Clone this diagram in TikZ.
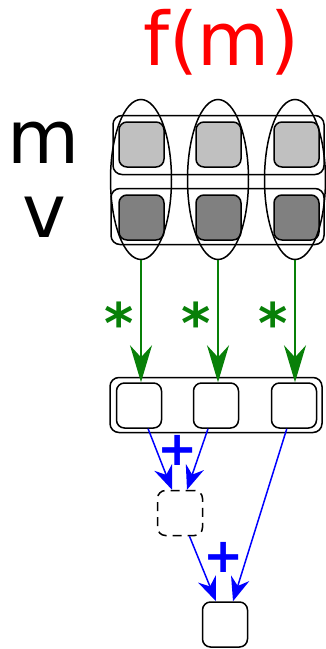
\documentclass[tikz,border=0pt]{standalone}
\usepackage{fontspec}
\setmainfont{DejaVu Sans}
\usetikzlibrary{shapes.geometric,arrows.meta}
\definecolor{MulGreen}{HTML}{088008}
\definecolor{SumBlue}{HTML}{0000FF}
\definecolor{FnRed}{HTML}{FF0000}
\definecolor{LightCell}{HTML}{C0C0C0}
\definecolor{DarkCell}{HTML}{808080}

\begin{document}
\begin{tikzpicture}[x=1pt,y=1pt,line width=1.5pt,
  cell/.style={draw,rounded corners=8pt,minimum width=45pt,minimum height=45pt,inner sep=0pt},
  rowbox/.style={draw,rounded corners=9pt,inner sep=0pt},
  colring/.style={draw,ellipse,minimum width=61pt,minimum height=160pt,inner sep=0pt},
  mul/.style={MulGreen,-{Stealth[length=37pt,width=22pt,inset=12pt]}},
  add/.style={SumBlue,-{Stealth[length=24pt,width=19pt,inset=8pt]}},
  bigtext/.style={inner sep=0pt,font=\fontsize{74}{80}\selectfont},
  mulsign/.style={MulGreen,anchor=north,inner sep=0pt,font=\bfseries\fontsize{56}{60}\selectfont},
  addsign/.style={SumBlue,anchor=north,inner sep=0pt,font=\bfseries\fontsize{48}{52}\selectfont}]
\useasboundingbox (0,0) rectangle (325,-649);
% labels
\node[bigtext,text=FnRed] (fm) at (221,-42.5) {f(m)};
\node[bigtext] (mlab) at (44,-142.5) {m};
\node[bigtext] (vlab) at (44,-217) {v};
% rows of m and v
\node[rowbox,minimum width=211pt,minimum height=59pt] (mrow) at (218.5,-145) {};
\node[rowbox,minimum width=213pt,minimum height=56pt] (vrow) at (217.5,-216.5) {};
\node[cell,fill=LightCell] (m1) at (141.5,-144.5) {};
\node[cell,fill=LightCell] (m2) at (218.5,-144.5) {};
\node[cell,fill=LightCell] (m3) at (296.5,-144.5) {};
\node[cell,fill=DarkCell] (v1) at (141.5,-217.5) {};
\node[cell,fill=DarkCell] (v2) at (218.5,-217.5) {};
\node[cell,fill=DarkCell] (v3) at (296.5,-217.5) {};
% columns
\node[colring] (c1) at (141,-179.5) {};
\node[colring] (c2) at (218,-179.5) {};
\node[colring] (c3) at (295,-179.5) {};
% products
\node[rowbox,minimum width=212pt,minimum height=55pt] (prow) at (216,-405) {};
\node[cell] (p1) at (139,-405.5) {};
\node[cell] (p2) at (216,-405.5) {};
\node[cell] (p3) at (294,-405.5) {};
\draw[mul] (c1.south) -- (c1.south |- p1.north);
\draw[mul] (c2.south) -- (c2.south |- p2.north);
\draw[mul] (c3.south) -- (c3.south |- p3.north);
\node[mulsign] (x1) at (119,-301) {*};
\node[mulsign] (x2) at (196,-301) {*};
\node[mulsign] (x3) at (273,-301) {*};
% sums
\node[cell,dash pattern=on 9pt off 6pt] (s1) at (180,-513) {};
\node[cell] (s2) at (225,-624.5) {};
\draw[add] (p1) -- ([xshift=-8pt]s1.north);
\draw[add] (p2) -- ([xshift=7pt]s1.north);
\draw[add] (s1) -- ([xshift=-9pt]s2.north);
\draw[add] (p3) -- ([xshift=8pt]s2.north);
\node[addsign] (a1) at (178,-435) {+};
\node[addsign] (a2) at (224,-542) {+};
\end{tikzpicture}
\end{document}
